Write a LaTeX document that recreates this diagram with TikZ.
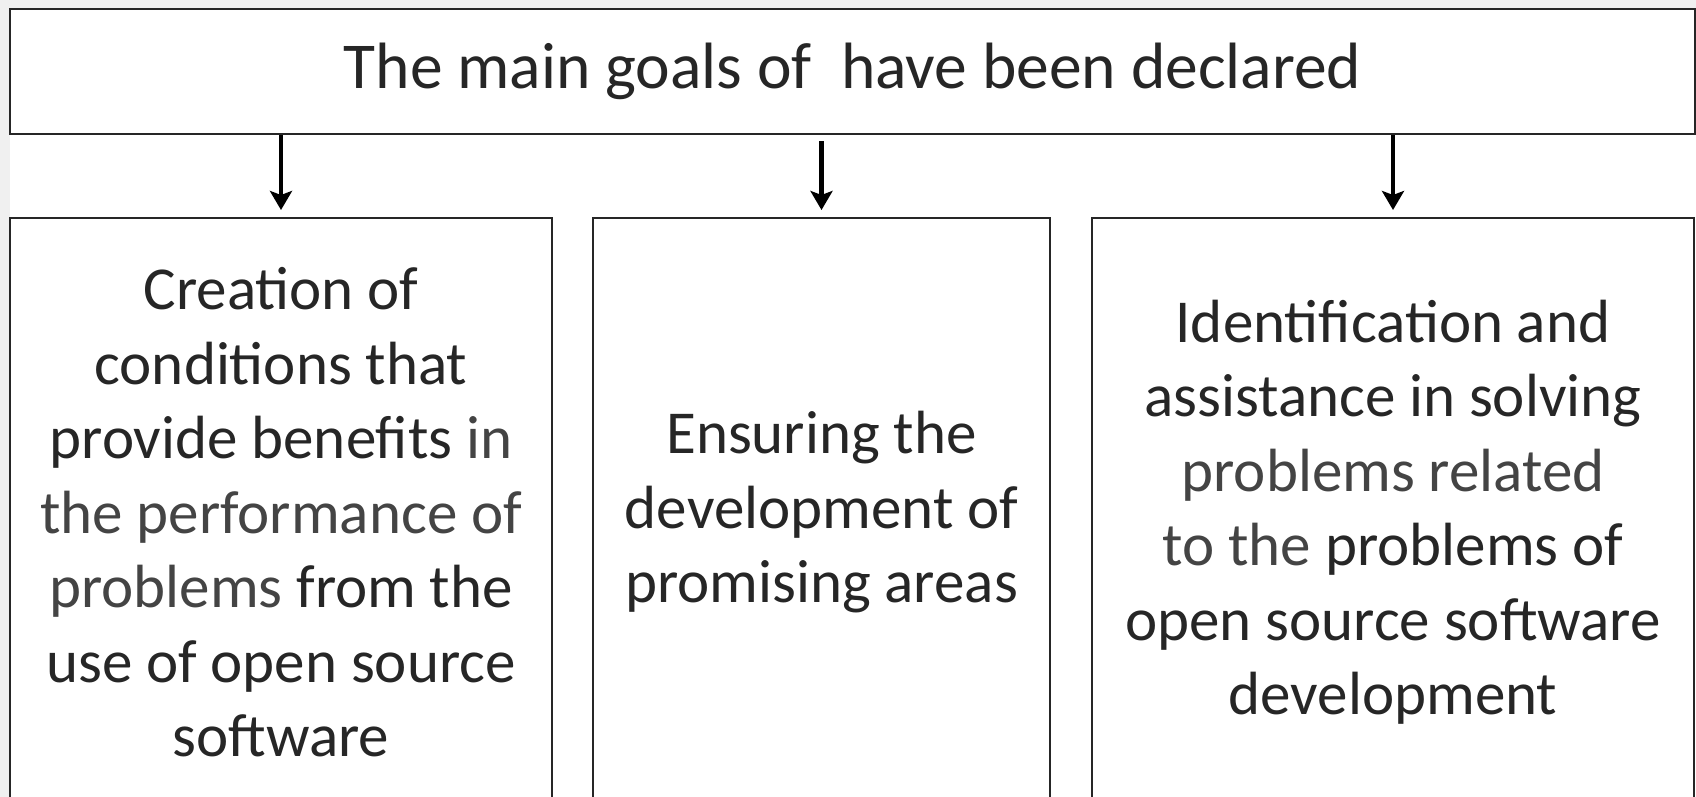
\documentclass[tikz,border=0pt]{standalone}
\usepackage{fontspec}
\setmainfont{Carlito}
\usetikzlibrary{arrows.meta,positioning}

\definecolor{pagegray}{HTML}{F0F0F0}
\definecolor{inkdark}{HTML}{262626}
\definecolor{inklight}{HTML}{444444}
\newcommand{\softword}[1]{{\color{inklight}#1}}

\begin{document}
\begin{tikzpicture}[x=1bp, y=-1bp,
  headbox/.style={draw=black!85, line width=2.4bp, fill=white, inner sep=0pt,
                  minimum width=1685bp, minimum height=125bp, text=inkdark,
                  font=\fontsize{65.5bp}{78bp}\selectfont},
  goalbox/.style={draw=black!85, line width=2.4bp, fill=white, inner sep=0pt,
                  minimum height=588bp, anchor=north, align=center, text=inkdark,
                  font=\fontsize{61bp}{74.5bp}\selectfont},
  link/.style={-{Stealth[length=19bp, width=22bp, inset=4bp]}, draw=black,
               line width=4.5bp, shorten >=7bp}
]
  \useasboundingbox (0,0) rectangle (1696,797);
  \clip (0,0) rectangle (1696,797);
  \fill[pagegray] (0,0) rectangle (1696,797);
  \fill[white] (10,9) rectangle (1696,797);

  \node[headbox] (goals) at (852.5,71.5) {The main goals of \ have been declared};

  \node[goalbox, minimum width=542bp] (benefits) at (281,217)
      {Creation of\\ conditions that\\ provide benefits \softword{in}\\
       \softword{the performance of}\\ \softword{problems} from the\\
       use of open source\\ software};
  \node[goalbox, minimum width=457bp] (areas) at (821.5,217)
      {Ensuring the\\ development of\\ promising areas};
  \node[goalbox, minimum width=602bp] (solving) at (1393,217)
      {Identification and\\ assistance in solving\\ \softword{problems related}\\
       \softword{to the} problems of\\ open source software\\ development};

  \draw[link] (goals.south -| benefits.north) -- (benefits.north);
  \draw[link, shorten <=6bp] (goals.south -| areas.north) -- (areas.north);
  \draw[link] (goals.south -| solving.north) -- (solving.north);
\end{tikzpicture}
\end{document}
